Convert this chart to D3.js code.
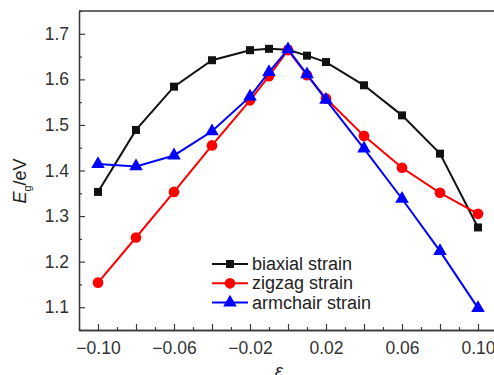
<!DOCTYPE html>
<html><head><meta charset="utf-8">
<script src="https://cdn.jsdelivr.net/npm/d3@7"></script>
<style>body{margin:0;background:#fff;} svg{display:block;font-family:"Liberation Sans",Arial,sans-serif;}</style>
</head><body>
<svg id="c" width="494" height="375"></svg>
<script>
const strain = [-0.10,-0.08,-0.06,-0.04,-0.02,-0.01,0,0.01,0.02,0.04,0.06,0.08,0.10];
const biaxial = [1.353,1.489,1.584,1.642,1.664,1.667,1.665,1.652,1.638,1.587,1.521,1.437,1.275];
const zigzag  = [1.154,1.253,1.353,1.455,1.554,1.607,1.664,1.609,1.558,1.476,1.406,1.351,1.305];
const armchair= [1.414,1.409,1.433,1.486,1.562,1.616,1.666,1.611,1.555,1.448,1.338,1.223,1.098];
const xMajor = [-0.10,-0.08,-0.06,-0.04,-0.02,0,0.02,0.04,0.06,0.08,0.10];
const xLabels = [-0.10,-0.06,-0.02,0.02,0.06,0.10];
const xMinor = [-0.11,-0.09,-0.07,-0.05,-0.03,-0.01,0.01,0.03,0.05,0.07,0.09,0.11];
const yMajor = [1.1,1.2,1.3,1.4,1.5,1.6,1.7];
const yMinor = [1.05,1.15,1.25,1.35,1.45,1.55,1.65,1.75];
const seriesNames = ["biaxial strain","zigzag strain","armchair strain"];

const svg = d3.select("#c");
const L=79, T=11, R=497, B=330;
const x = d3.scaleLinear().domain([-0.11,0.11]).range([L,R]);
const y = d3.scaleLinear().domain([1.05,1.75]).range([B,T]);
const frame="#3a3a3a";
const fmtX = d => (d<0?"\u2212":"") + Math.abs(d).toFixed(2);

// frame
svg.append("line").attr("x1",L).attr("x2",R).attr("y1",T).attr("y2",T).attr("stroke",frame).attr("stroke-width",1.3);
svg.append("line").attr("x1",R).attr("x2",R).attr("y1",T).attr("y2",B).attr("stroke",frame).attr("stroke-width",1.3);

// x axis
const gx = svg.append("g").attr("transform",`translate(0,${B})`);
gx.call(d3.axisBottom(x).tickValues(xMajor).tickSize(-6).tickSizeOuter(0).tickPadding(12)
  .tickFormat(d => xLabels.some(v=>Math.abs(v-d)<1e-9) ? fmtX(d) : ""));
gx.append("g").call(d3.axisBottom(x).tickValues(xMinor).tickSize(-3).tickSizeOuter(0).tickFormat(""));
// y axis
const gy = svg.append("g").attr("transform",`translate(${L},0)`);
gy.call(d3.axisLeft(y).tickValues(yMajor).tickSize(-6).tickSizeOuter(0).tickPadding(10).tickFormat(d3.format(".1f")));
gy.append("g").call(d3.axisLeft(y).tickValues(yMinor).tickSize(-3).tickSizeOuter(0).tickFormat(""));
svg.selectAll(".domain").attr("stroke",frame).attr("stroke-width",1.3);
svg.selectAll(".tick line").attr("stroke",frame).attr("stroke-width",1.2);
svg.selectAll(".tick text").attr("fill","#333").style("font-size","17.5px").style("font-family","'Liberation Sans',Arial,sans-serif");

const line = d3.line().x((d,i)=>x(strain[i])).y(d=>y(d));
const series = [
  {vals:biaxial,color:"#111",marker:"square"},
  {vals:zigzag,color:"#ff0000",marker:"circle"},
  {vals:armchair,color:"#0000ff",marker:"triangle"}
];
const sym = {square:d3.symbol(d3.symbolSquare,64), circle:d3.symbol(d3.symbolCircle,90), triangle:d3.symbol(d3.symbolTriangle,80)};
series.forEach(s=>{
  svg.append("path").attr("d",line(s.vals)).attr("fill","none").attr("stroke",s.color).attr("stroke-width",2);
  svg.selectAll(null).data(s.vals).enter().append("path")
    .attr("d",sym[s.marker]()).attr("fill",s.color)
    .attr("transform",(d,i)=>`translate(${x(strain[i])},${y(d)})`);
});

// legend
const lg = svg.append("g");
series.forEach((s,i)=>{
  const yy = 264 + i*19.3;
  lg.append("line").attr("x1",212).attr("x2",248).attr("y1",yy).attr("y2",yy).attr("stroke",s.color).attr("stroke-width",2);
  lg.append("path").attr("d",sym[s.marker]()).attr("fill",s.color).attr("transform",`translate(230,${yy})`);
  lg.append("text").attr("x",252).attr("y",yy+6).text(seriesNames[i]).attr("fill","#222").style("font-size","18px");
});

// axis titles
const yt = svg.append("text").attr("transform","translate(26,181) rotate(-90)").attr("text-anchor","middle").attr("fill","#222").style("font-size","18px");
yt.append("tspan").text("E").style("font-style","italic");
yt.append("tspan").text("g").attr("dy",5).style("font-size","11px");
yt.append("tspan").text("/eV").attr("dy",-5);
svg.append("text").attr("x",279).attr("y",377).attr("text-anchor","middle").style("font-style","italic").style("font-size","18px").attr("fill","#222").text("ε");
</script>
</body></html>
